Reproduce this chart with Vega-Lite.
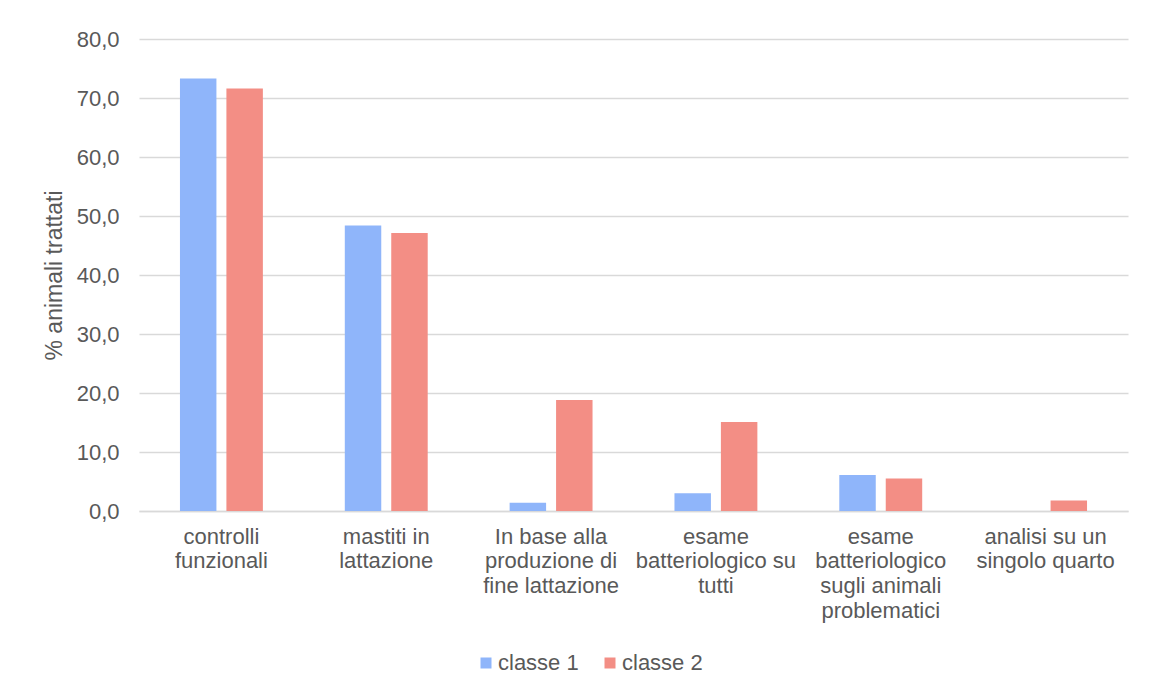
{
  "$schema": "https://vega.github.io/schema/vega-lite/v6.json",
  "width": 989,
  "height": 472,
  "autosize": {"type": "none"},
  "padding": {"left": 139, "top": 39, "right": 23, "bottom": 176},
  "background": "white",
  "data": {
    "values": [
      {"voce": "controlli funzionali", "classe": "classe 1", "percentuale": 73.3},
      {"voce": "controlli funzionali", "classe": "classe 2", "percentuale": 71.6},
      {"voce": "mastiti in lattazione", "classe": "classe 1", "percentuale": 48.4},
      {"voce": "mastiti in lattazione", "classe": "classe 2", "percentuale": 47.1},
      {"voce": "In base alla produzione di fine lattazione", "classe": "classe 1", "percentuale": 1.4},
      {"voce": "In base alla produzione di fine lattazione", "classe": "classe 2", "percentuale": 18.8},
      {"voce": "esame batteriologico su tutti", "classe": "classe 1", "percentuale": 3.0},
      {"voce": "esame batteriologico su tutti", "classe": "classe 2", "percentuale": 15.1},
      {"voce": "esame batteriologico sugli animali problematici", "classe": "classe 1", "percentuale": 6.1},
      {"voce": "esame batteriologico sugli animali problematici", "classe": "classe 2", "percentuale": 5.5},
      {"voce": "analisi su un singolo quarto", "classe": "classe 1", "percentuale": 0.0},
      {"voce": "analisi su un singolo quarto", "classe": "classe 2", "percentuale": 1.8}
    ]
  },
  "mark": {"type": "bar"},
  "encoding": {
    "x": {
      "field": "voce",
      "type": "nominal",
      "sort": null,
      "scale": {"paddingInner": 0.497, "paddingOuter": 0.2485},
      "axis": {
        "title": null,
        "labelAngle": 0,
        "labelPadding": 15,
        "labelBaseline": "top",
        "labelLineHeight": 24.7,
        "labelExpr": "datum.label == 'controlli funzionali' ? ['controlli', 'funzionali'] : datum.label == 'mastiti in lattazione' ? ['mastiti in', 'lattazione'] : datum.label == 'In base alla produzione di fine lattazione' ? ['In base alla', 'produzione di', 'fine lattazione'] : datum.label == 'esame batteriologico su tutti' ? ['esame', 'batteriologico su', 'tutti'] : datum.label == 'esame batteriologico sugli animali problematici' ? ['esame', 'batteriologico', 'sugli animali', 'problematici'] : ['analisi su un', 'singolo quarto']",
        "ticks": false,
        "grid": false,
        "domain": true,
        "domainColor": "#d9d9d9",
        "domainWidth": 1.5
      }
    },
    "xOffset": {
      "field": "classe",
      "type": "nominal",
      "scale": {"paddingInner": 0.215, "paddingOuter": 0}
    },
    "y": {
      "field": "percentuale",
      "type": "quantitative",
      "scale": {"domain": [0, 80], "nice": false},
      "axis": {
        "title": "% animali trattati",
        "values": [0, 10, 20, 30, 40, 50, 60, 70, 80],
        "labelExpr": "replace(format(datum.value, '.1f'), '.', ',')",
        "labelPadding": 20,
        "ticks": false,
        "domain": false,
        "grid": true,
        "gridColor": "#d9d9d9",
        "gridWidth": 1.5,
        "titlePadding": 10,
        "titleFontWeight": "normal"
      }
    },
    "color": {
      "field": "classe",
      "type": "nominal",
      "scale": {"domain": ["classe 1", "classe 2"], "range": ["#8fb5fa", "#f38e85"]},
      "legend": {
        "title": null,
        "orient": "none",
        "direction": "horizontal",
        "legendX": 336,
        "legendY": 613,
        "symbolType": "square",
        "symbolSize": 121,
        "symbolStrokeWidth": 0,
        "labelOffset": 1,
        "columnPadding": 20
      }
    }
  },
  "config": {
    "font": "Liberation Sans",
    "view": {"stroke": null},
    "axis": {
      "labelFont": "Liberation Sans",
      "labelFontSize": 22,
      "labelColor": "#595959",
      "titleFont": "Liberation Sans",
      "titleFontSize": 23,
      "titleColor": "#595959"
    },
    "legend": {
      "labelFont": "Liberation Sans",
      "labelFontSize": 22,
      "labelColor": "#595959"
    }
  }
}
